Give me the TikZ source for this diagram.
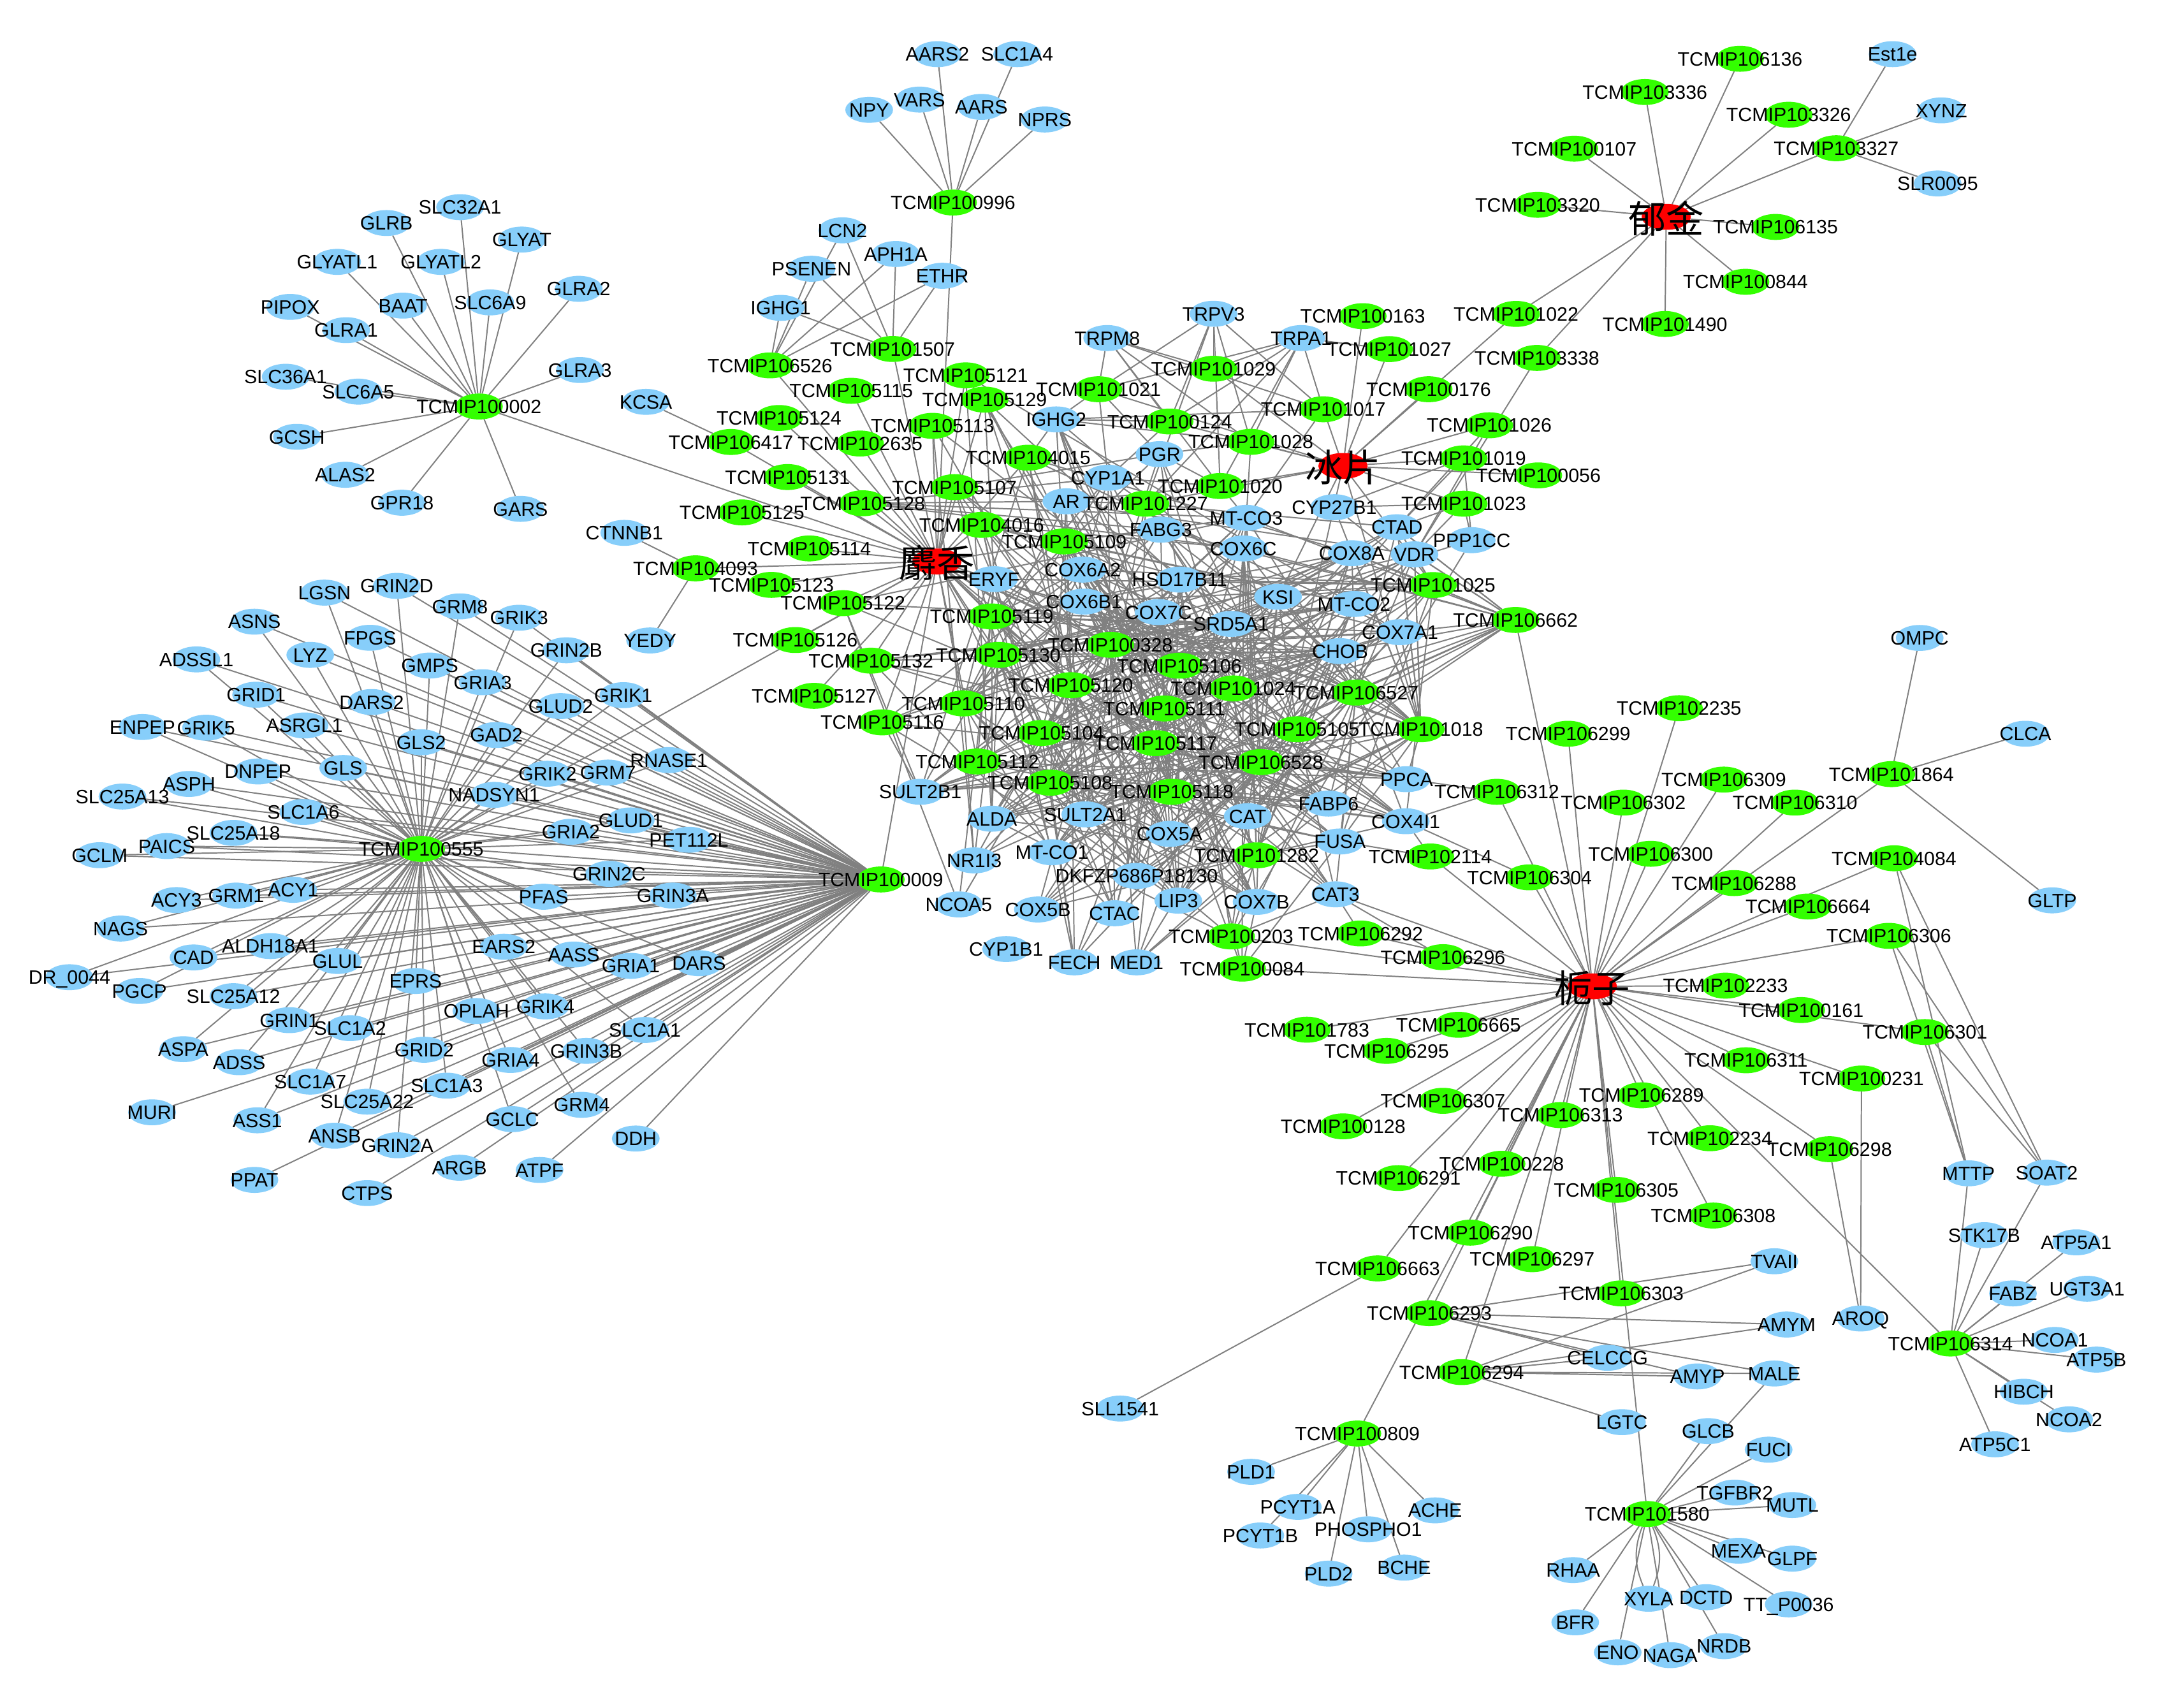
\documentclass[tikz,border=0pt]{standalone}
\usepackage{fontspec}
\setmainfont{Liberation Sans}
\newfontfamily\cjkfont{Noto Sans CJK SC}
\usetikzlibrary{shapes.geometric,backgrounds}
\definecolor{tblue}{RGB}{135,206,250}
\definecolor{cgreen}{RGB}{51,255,0}
\definecolor{hred}{RGB}{255,0,0}
\definecolor{egray}{RGB}{128,128,128}
\newcommand\lbltext[1]{\makebox[0pt][c]{\raisebox{-0.36em}[0pt][0pt]{#1}}}
\newcommand\cjktext[1]{\makebox[0pt][c]{\raisebox{-0.42em}[0pt][0pt]{#1}}}
\def\wrapt{\lbltext}
\def\wrapc{\lbltext}
\def\wraph{\cjktext}
\newcommand\mkell[5]{\node[#1node] (#2) at (#3,#4) {};}
\newcommand\mklab[5]{\node[#1lab] (#2l) at (#3,#4) {\csname wrap#1\endcsname{#5}};}
\tikzset{
  basenode/.style={ellipse, minimum width=34pt, minimum height=18.5pt, inner sep=0pt, outer sep=0pt},
  tnode/.style={basenode, fill=tblue},
  cnode/.style={basenode, fill=cgreen},
  hnode/.style={basenode, fill=hred, minimum width=35pt},
  tlab/.style={inner sep=0pt, outer sep=0pt, font=\fontsize{13.8}{16}\selectfont},
  clab/.style={tlab},
  hlab/.style={inner sep=0pt, outer sep=0pt, font=\fontsize{27}{30}\cjkfont},
  lnk/.style={draw=egray, line width=0.9pt}
}
\def\allnodes{%
% ---- top-left cluster
\ND{c}{c100002}{341.5}{289.8}{TCMIP100002}
\ND{t}{SLC32A1}{328}{147.7}{SLC32A1}
\ND{t}{GLRB}{275.5}{159}{GLRB}
\ND{t}{GLYAT}{372}{170.8}{GLYAT}
\ND{t}{GLYATL1}{240.4}{186.7}{GLYATL1}
\ND{t}{GLYATL2}{314.4}{186.7}{GLYATL2}
\ND{t}{GLRA2}{412.6}{205.9}{GLRA2}
\ND{t}{PIPOX}{206.9}{218.8}{PIPOX}
\ND{t}{BAAT}{287.3}{217.9}{BAAT}
\ND{t}{SLC6A9}{349.5}{215.6}{SLC6A9}
\ND{t}{GLRA1}{246.8}{235.4}{GLRA1}
\ND{t}{GLRA3}{413.5}{263.8}{GLRA3}
\ND{t}{SLC36A1}{203.7}{268.6}{SLC36A1}
\ND{t}{SLC6A5}{255.4}{279.2}{SLC6A5}
\ND{t}{KCSA}{460.5}{286.5}{KCSA}
\ND{t}{GCSH}{211.7}{311.4}{GCSH}
\ND{t}{ALAS2}{246.1}{338.5}{ALAS2}
\ND{t}{GPR18}{286.6}{358.4}{GPR18}
\ND{t}{GARS}{371.1}{362.8}{GARS}
\ND{t}{CTNNB1}{445.1}{379.9}{CTNNB1}
% ---- top centre
\ND{t}{AARS2}{668.4}{38.6}{AARS2}
\ND{t}{SLC1A4}{725.2}{38.6}{SLC1A4}
\ND{t}{NPY}{619.7}{78.3}{NPY}
\ND{t}{VARS}{655.6}{71}{VARS}
\ND{t}{AARS}{699.7}{76.2}{AARS}
\ND{t}{NPRS}{744.9}{85.2}{NPRS}
\ND{c}{c100996}{679.5}{144.4}{TCMIP100996}
\ND{t}{LCN2}{600.6}{164.2}{LCN2}
\ND{t}{APH1A}{638.7}{181.1}{APH1A}
\ND{t}{PSENEN}{578.6}{191.6}{PSENEN}
\ND{t}{ETHR}{671.9}{196.6}{ETHR}
\ND{t}{IGHG1}{556.6}{219.5}{IGHG1}
\ND{c}{c101507}{636.4}{248.8}{TCMIP101507}
\ND{c}{c106526}{549}{260.5}{TCMIP106526}
\ND{c}{c105121}{688.5}{267.6}{TCMIP105121}
\ND{c}{c105115}{606.9}{278.6}{TCMIP105115}
\ND{c}{c105129}{702}{284.9}{TCMIP105129}
\ND{c}{c105124}{555.4}{298}{TCMIP105124}
\ND{c}{c106417}{521.1}{315.1}{TCMIP106417}
\ND{c}{c102635}{613.2}{316.2}{TCMIP102635}
\ND{c}{c105113}{664.9}{303.6}{TCMIP105113}
\ND{t}{IGHG2}{753}{299}{IGHG2}
% ---- borneol area
\ND{t}{TRPV3}{865.2}{223.7}{TRPV3}
\ND{c}{c100163}{971.6}{225.4}{TCMIP100163}
\ND{t}{TRPM8}{789.4}{241}{TRPM8}
\ND{t}{TRPA1}{927.8}{241}{TRPA1}
\ND{c}{c101027}{990.4}{248.9}{TCMIP101027}
\ND{c}{c101029}{865.2}{262.9}{TCMIP101029}
\ND{c}{c101021}{783.2}{277.5}{TCMIP101021}
\ND{c}{c100176}{1018.6}{277.5}{TCMIP100176}
\ND{c}{c101017}{943.5}{291.8}{TCMIP101017}
\ND{c}{c100124}{833.9}{300.5}{TCMIP100124}
\ND{c}{c101026}{1061.8}{303.2}{TCMIP101026}
\ND{c}{c101028}{891.8}{315}{TCMIP101028}
\ND{t}{PGR}{826.7}{323.8}{PGR}
\ND{c}{c104015}{733.1}{326.3}{TCMIP104015}
\ND{c}{c101019}{1043.6}{326.8}{TCMIP101019}
\ND{c}{c100056}{1096.8}{338.9}{TCMIP100056}
\ND{t}{CYP1A1}{790}{340.6}{CYP1A1}
\ND{c}{c101020}{869.9}{346.5}{TCMIP101020}
\ND{c}{c105107}{680.5}{347.3}{TCMIP105107}
\ND{t}{AR}{760.3}{357.4}{AR}
\ND{c}{c101227}{816.7}{359.1}{TCMIP101227}
\ND{t}{CYP27B1}{951.3}{361.6}{CYP27B1}
\ND{c}{c101023}{1043.6}{359.1}{TCMIP101023}
\ND{c}{c105128}{615.1}{358.8}{TCMIP105128}
\ND{t}{MTCO3}{888.6}{369.2}{MT-CO3}
\ND{c}{c104016}{699.9}{374.2}{TCMIP104016}
\ND{t}{FABG3}{827.6}{377.6}{FABG3}
\ND{t}{CTAD}{996}{375.9}{CTAD}
\ND{t}{PPP1CC}{1049.3}{385.1}{PPP1CC}
\ND{c}{c105109}{758.8}{386}{TCMIP105109}
\ND{t}{COX6C}{886.5}{391}{COX6C}
\ND{t}{COX8A}{963.8}{394.4}{COX8A}
\ND{t}{VDR}{1008.5}{395.2}{VDR}
\ND{t}{ERYF}{708.7}{412.9}{ERYF}
\ND{t}{COX6A2}{771.9}{406.1}{COX6A2}
\ND{t}{HSD17B11}{841.1}{413.2}{HSD17B11}
\ND{c}{c101025}{1021.7}{417.1}{TCMIP101025}
\ND{t}{KSI}{911.2}{425.5}{KSI}
\ND{t}{COX6B1}{772.8}{428.9}{COX6B1}
\ND{t}{MTCO2}{965.4}{430.6}{MT-CO2}
\ND{c}{c105119}{707.1}{439.5}{TCMIP105119}
\ND{t}{COX7C}{826}{436.4}{COX7C}
\ND{t}{SRD5A1}{877.7}{444.8}{SRD5A1}
\ND{c}{c106662}{1080.5}{442}{TCMIP106662}
\ND{t}{COX7A1}{998.2}{450.7}{COX7A1}
% ---- centre lower
\ND{t}{CHOB}{955.4}{464.2}{CHOB}
\ND{c}{c100328}{791.6}{459.7}{TCMIP100328}
\ND{c}{c105130}{711.8}{466.9}{TCMIP105130}
\ND{c}{c105106}{840.8}{474.6}{TCMIP105106}
\ND{c}{c105120}{763.5}{488.5}{TCMIP105120}
\ND{c}{c101024}{879.3}{490.8}{TCMIP101024}
\ND{c}{c106527}{966.9}{493.8}{TCMIP106527}
\ND{c}{c105110}{686.8}{501.5}{TCMIP105110}
\ND{c}{c105111}{830.1}{505.1}{TCMIP105111}
\ND{c}{c105104}{742.5}{522.6}{TCMIP105104}
\ND{c}{c105105}{924.7}{519.9}{TCMIP105105}
\ND{c}{c101018}{1013}{519.9}{TCMIP101018}
\ND{c}{c105117}{823.9}{529.8}{TCMIP105117}
\ND{c}{c105112}{696.8}{542.9}{TCMIP105112}
\ND{c}{c106528}{899}{543.3}{TCMIP106528}
\ND{c}{c105108}{748.7}{558}{TCMIP105108}
\ND{c}{c105118}{835.5}{564.5}{TCMIP105118}
\ND{t}{SULT2B1}{656.1}{564.5}{SULT2B1}
\ND{t}{PPCA}{1002.9}{555.5}{PPCA}
\ND{c}{c106312}{1067.2}{564.5}{TCMIP106312}
\ND{t}{FABP6}{947.2}{572.9}{FABP6}
\ND{t}{ALDA}{707.1}{583.7}{ALDA}
\ND{t}{SULT2A1}{773.8}{580.6}{SULT2A1}
\ND{t}{CAT}{889.6}{581.9}{CAT}
\ND{t}{COX4I1}{1002.3}{585.5}{COX4I1}
\ND{t}{COX5A}{833.9}{594.5}{COX5A}
\ND{t}{FUSA}{955.4}{599.9}{FUSA}
\ND{c}{c101282}{895.9}{609.8}{TCMIP101282}
\ND{t}{MTCO1}{750}{607.6}{MT-CO1}
\ND{t}{NR1I3}{694.6}{613.4}{NR1I3}
\ND{c}{c102114}{1019.8}{610.6}{TCMIP102114}
\ND{c}{c100009}{628}{627}{TCMIP100009}
\ND{t}{DKFZ}{810.4}{624.5}{DKFZP686P18130}
\ND{t}{LIP3}{840.1}{642.1}{LIP3}
\ND{t}{COX7B}{895.9}{643}{COX7B}
\ND{t}{CAT3}{952.2}{637.6}{CAT3}
\ND{t}{NCOA5}{683.6}{644.8}{NCOA5}
\ND{t}{COX5B}{740}{648.4}{COX5B}
\ND{t}{CTAC}{794.8}{651.1}{CTAC}
\ND{t}{CYP1B1}{717.4}{676.6}{CYP1B1}
\ND{t}{FECH}{766}{686.1}{FECH}
\ND{t}{MED1}{810.4}{686.1}{MED1}
\ND{c}{c100203}{877.7}{667.6}{TCMIP100203}
\ND{c}{c106292}{970}{665.5}{TCMIP106292}
\ND{c}{c106296}{1028.8}{682.4}{TCMIP106296}
\ND{c}{c100084}{885.6}{690.6}{TCMIP100084}
% ---- left of musk
\ND{c}{c105131}{561.5}{340.1}{TCMIP105131}
\ND{c}{c105125}{529}{365.3}{TCMIP105125}
\ND{c}{c105114}{577}{391}{TCMIP105114}
\ND{c}{c104093}{495.9}{405.2}{TCMIP104093}
\ND{c}{c105123}{550}{417}{TCMIP105123}
\ND{c}{c105122}{601}{430}{TCMIP105122}
\ND{t}{YEDY}{463.5}{456.6}{YEDY}
\ND{c}{c105126}{567}{456.3}{TCMIP105126}
\ND{c}{c105132}{621}{471}{TCMIP105132}
\ND{c}{c105127}{580.4}{496.1}{TCMIP105127}
\ND{c}{c105116}{629}{515}{TCMIP105116}
% ---- left cluster
\ND{t}{GRIN2D}{282.9}{417.7}{GRIN2D}
\ND{t}{LGSN}{231.3}{422.5}{LGSN}
\ND{t}{GRM8}{327.9}{432.3}{GRM8}
\ND{t}{GRIK3}{370.1}{440.4}{GRIK3}
\ND{t}{ASNS}{181.4}{443.2}{ASNS}
\ND{t}{FPGS}{263.8}{454.7}{FPGS}
\ND{t}{GRIN2B}{403.8}{463.6}{GRIN2B}
\ND{t}{LYZ}{221.2}{466.9}{LYZ}
\ND{t}{ADSSL1}{140}{470.1}{ADSSL1}
\ND{t}{GMPS}{306.4}{474.5}{GMPS}
\ND{t}{GRIA3}{344.2}{486.4}{GRIA3}
\ND{t}{GRID1}{182.6}{495.3}{GRID1}
\ND{t}{DARS2}{265}{500.5}{DARS2}
\ND{t}{GLUD2}{399.8}{503.4}{GLUD2}
\ND{t}{GRIK1}{444.4}{495.6}{GRIK1}
\ND{t}{ENPEP}{101.5}{518.3}{ENPEP}
\ND{t}{GRIK5}{146.9}{518.8}{GRIK5}
\ND{t}{ASRGL1}{217.1}{517.2}{ASRGL1}
\ND{t}{GLS2}{300.3}{529.2}{GLS2}
\ND{t}{GAD2}{353.9}{524}{GAD2}
\ND{t}{RNASE1}{476.9}{541.9}{RNASE1}
\ND{t}{GLS}{244.7}{547.5}{GLS}
\ND{t}{DNPEP}{183.9}{550}{DNPEP}
\ND{t}{GRIK2}{390.4}{551.6}{GRIK2}
\ND{t}{GRM7}{433.5}{550.8}{GRM7}
\ND{t}{ASPH}{134.7}{558.9}{ASPH}
\ND{t}{SLC25A13}{87.3}{567.9}{SLC25A13}
\ND{t}{NADSYN1}{352.3}{566.7}{NADSYN1}
\ND{t}{SLC1A6}{216.3}{578.9}{SLC1A6}
\ND{t}{GLUD1}{449.7}{584.9}{GLUD1}
\ND{t}{SLC25A18}{166.4}{593.8}{SLC25A18}
\ND{t}{GRIA2}{407}{593}{GRIA2}
\ND{t}{PET112L}{491.1}{598.7}{PET112L}
\ND{t}{PAICS}{118.9}{603.2}{PAICS}
\ND{t}{GCLM}{71}{609.7}{GCLM}
\ND{c}{c100555}{300.3}{605.2}{TCMIP100555}
\ND{t}{GRIN2C}{434.3}{623}{GRIN2C}
\ND{t}{ACY3}{125.8}{641.7}{ACY3}
\ND{t}{GRM1}{168.4}{638.5}{GRM1}
\ND{t}{ACY1}{209}{634.4}{ACY1}
\ND{t}{PFAS}{387.6}{639.3}{PFAS}
\ND{t}{GRIN3A}{479.7}{638.5}{GRIN3A}
\ND{t}{NAGS}{86}{662}{NAGS}
\ND{t}{ALDH18A1}{192.8}{674.5}{ALDH18A1}
\ND{t}{CAD}{138}{682.6}{CAD}
\ND{t}{GLUL}{240.7}{685.1}{GLUL}
\ND{t}{EARS2}{359.2}{675}{EARS2}
\ND{t}{AASS}{409.1}{680.5}{AASS}
\ND{t}{GRIA1}{449.7}{688.6}{GRIA1}
\ND{t}{DARS}{498.4}{686.7}{DARS}
\ND{t}{DR0044}{49.5}{696.7}{DR\_0044}
\ND{t}{EPRS}{296.3}{699.4}{EPRS}
\ND{t}{PGCP}{99.4}{706.5}{PGCP}
\ND{t}{SLC25A12}{166.4}{710.2}{SLC25A12}
\ND{t}{OPLAH}{339.7}{720.8}{OPLAH}
\ND{t}{GRIK4}{388.8}{717.5}{GRIK4}
\ND{t}{GRIN1}{206.2}{727.3}{GRIN1}
\ND{t}{SLC1A2}{249.6}{733}{SLC1A2}
\ND{t}{SLC1A1}{459.8}{734.3}{SLC1A1}
\ND{t}{ASPA}{130.7}{748}{ASPA}
\ND{t}{GRID2}{302.4}{748.4}{GRID2}
\ND{t}{GRIN3B}{418}{749.2}{GRIN3B}
\ND{t}{ADSS}{170.5}{757.3}{ADSS}
\ND{t}{GRIA4}{364}{755.7}{GRIA4}
\ND{t}{SLC1A7}{221.2}{771.1}{SLC1A7}
\ND{t}{SLC1A3}{318.6}{774}{SLC1A3}
\ND{t}{SLC25A22}{261.8}{785.4}{SLC25A22}
\ND{t}{GRM4}{414.8}{787.7}{GRM4}
\ND{t}{MURI}{108.4}{793}{MURI}
\ND{t}{ASS1}{183.5}{798.7}{ASS1}
\ND{t}{GCLC}{365.3}{797.9}{GCLC}
\ND{t}{DDH}{453.3}{811.7}{DDH}
\ND{t}{ANSB}{238.6}{809.7}{ANSB}
\ND{t}{GRIN2A}{283.3}{816.5}{GRIN2A}
\ND{t}{ARGB}{327.5}{832.5}{ARGB}
\ND{t}{ATPF}{384.7}{834.1}{ATPF}
\ND{t}{PPAT}{181.4}{841.2}{PPAT}
\ND{t}{CTPS}{261.8}{850.6}{CTPS}
% ---- top right
\ND{c}{c106136}{1240.6}{41.9}{TCMIP106136}
\ND{t}{Est1e}{1349.4}{38.6}{Est1e}
\ND{c}{c103336}{1172.8}{65.6}{TCMIP103336}
\ND{c}{c103326}{1275.3}{81.8}{TCMIP103326}
\ND{t}{XYNZ}{1384.1}{78.7}{XYNZ}
\ND{c}{c100107}{1122.4}{106}{TCMIP100107}
\ND{c}{c103327}{1309.2}{105.7}{TCMIP103327}
\ND{t}{SLR0095}{1381.5}{130.8}{SLR0095}
\ND{c}{c103320}{1096.3}{146}{TCMIP103320}
\ND{c}{c106135}{1265.9}{161.8}{TCMIP106135}
\ND{c}{c100844}{1244.5}{200.9}{TCMIP100844}
\ND{c}{c101022}{1080.9}{223.8}{TCMIP101022}
\ND{c}{c101490}{1187.1}{231}{TCMIP101490}
\ND{c}{c103338}{1095.8}{255.2}{TCMIP103338}
% ---- right cluster
\ND{t}{OMPC}{1368.7}{454.8}{OMPC}
\ND{c}{c102235}{1197.1}{504.9}{TCMIP102235}
\ND{c}{c106299}{1118}{523.1}{TCMIP106299}
\ND{t}{CLCA}{1444.1}{523.1}{CLCA}
\ND{c}{c101864}{1348.5}{551.9}{TCMIP101864}
\ND{c}{c106309}{1229}{555.8}{TCMIP106309}
\ND{c}{c106302}{1157.4}{572.2}{TCMIP106302}
\ND{c}{c106310}{1279.8}{572.2}{TCMIP106310}
\ND{c}{c106300}{1176.9}{608.7}{TCMIP106300}
\ND{c}{c104084}{1350.4}{611.9}{TCMIP104084}
\ND{c}{c106304}{1090.5}{625.5}{TCMIP106304}
\ND{c}{c106288}{1236.4}{629.6}{TCMIP106288}
\ND{t}{GLTP}{1463.2}{641.9}{GLTP}
\ND{c}{c106664}{1289}{646.3}{TCMIP106664}
\ND{c}{c106306}{1346.7}{667.2}{TCMIP106306}
\ND{c}{c102233}{1230.2}{702.7}{TCMIP102233}
\ND{c}{c100161}{1284.2}{720.1}{TCMIP100161}
\ND{c}{c106665}{1039.8}{730.6}{TCMIP106665}
\ND{c}{c106301}{1372.4}{735.8}{TCMIP106301}
\ND{c}{c101783}{931.8}{734.1}{TCMIP101783}
\ND{c}{c106295}{988.6}{749.2}{TCMIP106295}
\ND{c}{c106311}{1244.9}{755.9}{TCMIP106311}
\ND{c}{c100231}{1327.2}{768.9}{TCMIP100231}
\ND{c}{c106307}{1028.8}{784.8}{TCMIP106307}
\ND{c}{c106289}{1170.3}{780.9}{TCMIP106289}
\ND{c}{c106313}{1112.5}{795}{TCMIP106313}
\ND{c}{c100128}{957.6}{803}{TCMIP100128}
\ND{c}{c102234}{1219.1}{811.5}{TCMIP102234}
\ND{c}{c106298}{1304.4}{819.3}{TCMIP106298}
\ND{c}{c100228}{1070.6}{829.7}{TCMIP100228}
\ND{t}{MTTP}{1403.5}{836.5}{MTTP}
\ND{t}{SOAT2}{1459.3}{836}{SOAT2}
\ND{c}{c106291}{997}{839.9}{TCMIP106291}
\ND{c}{c106305}{1152.3}{848.3}{TCMIP106305}
\ND{c}{c106308}{1221.5}{866.6}{TCMIP106308}
\ND{c}{c106290}{1048.3}{878.8}{TCMIP106290}
\ND{t}{STK17B}{1414.7}{880.6}{STK17B}
\ND{t}{ATP5A1}{1480.3}{885.7}{ATP5A1}
\ND{c}{c106297}{1092.4}{897.7}{TCMIP106297}
\ND{t}{TVAII}{1265.1}{899.2}{TVAII}
\ND{c}{c106663}{982.2}{904.3}{TCMIP106663}
\ND{t}{FABZ}{1435.2}{922.1}{FABZ}
\ND{t}{UGT3A1}{1488}{918.8}{UGT3A1}
\ND{c}{c106303}{1155.9}{922.1}{TCMIP106303}
\ND{c}{c106293}{1019.1}{936.2}{TCMIP106293}
\ND{t}{AMYM}{1273.8}{944.3}{AMYM}
\ND{t}{AROQ}{1326.6}{940}{AROQ}
\ND{c}{c106314}{1390.6}{957.8}{TCMIP106314}
\ND{t}{NCOA1}{1465}{955.3}{NCOA1}
\ND{t}{ATP5B}{1494.7}{969.3}{ATP5B}
\ND{t}{CELCCG}{1146.2}{968}{CELCCG}
\ND{c}{c106294}{1042.1}{978.2}{TCMIP106294}
\ND{t}{AMYP}{1210.2}{981.3}{AMYP}
\ND{t}{MALE}{1265.1}{979.2}{MALE}
\ND{t}{HIBCH}{1442.9}{992.2}{HIBCH}
\ND{t}{SLL1541}{798.7}{1004.2}{SLL1541}
\ND{t}{NCOA2}{1475.2}{1011.9}{NCOA2}
\ND{t}{LGTC}{1156.4}{1013.9}{LGTC}
\ND{t}{GLCB}{1217.9}{1020.3}{GLCB}
\ND{c}{c100809}{967.8}{1022}{TCMIP100809}
\ND{t}{ATP5C1}{1422.4}{1029.7}{ATP5C1}
\ND{t}{FUCI}{1261}{1033.5}{FUCI}
\ND{t}{PLD1}{892}{1049.3}{PLD1}
\ND{t}{TGFBR2}{1236.9}{1064.1}{TGFBR2}
\ND{t}{MUTL}{1277.9}{1073}{MUTL}
\ND{t}{PCYT1A}{925.3}{1074.3}{PCYT1A}
\ND{t}{ACHE}{1023.2}{1076.8}{ACHE}
\ND{c}{c101580}{1174.4}{1079.4}{TCMIP101580}
\ND{t}{PHOSPHO1}{975.5}{1090.3}{PHOSPHO1}
\ND{t}{PCYT1B}{898.6}{1094.7}{PCYT1B}
\ND{t}{MEXA}{1239.5}{1105.6}{MEXA}
\ND{t}{GLPF}{1277.9}{1111.2}{GLPF}
\ND{t}{RHAA}{1121.6}{1119.4}{RHAA}
\ND{t}{PLD2}{947.3}{1121.9}{PLD2}
\ND{t}{BCHE}{1001.1}{1117.6}{BCHE}
\ND{t}{XYLA}{1175.4}{1139.8}{XYLA}
\ND{t}{DCTD}{1216.4}{1138.7}{DCTD}
\ND{t}{TTP0036}{1275.3}{1143.8}{TT\_P0036}
\ND{t}{BFR}{1123.1}{1156.6}{BFR}
\ND{t}{ENO}{1153.4}{1178}{ENO}
\ND{t}{NAGA}{1190.8}{1180}{NAGA}
\ND{t}{NRDB}{1229.2}{1173.6}{NRDB}
% ---- herbs
\ND{h}{YJ}{1188}{154.6}{郁金}
\ND{h}{BP}{957.5}{332.2}{冰片}
\ND{h}{SX}{668}{400.3}{麝香}
\ND{h}{ZZ}{1135.3}{703.2}{栀子}
}
\begin{document}
\begin{tikzpicture}[x=1pt,y=-1pt]
\useasboundingbox (0,0) rectangle (1553.6,1217.7);
\let\ND\mkell
\allnodes
\let\ND\mklab
\allnodes
\begin{pgfonlayer}{background}
\fill[white] (0,0) rectangle (1553.6,1217.7);
% herb hubs
\foreach \b in {c105121,c105115,c105129,c105124,c106417,c102635,c105113,c105131,c105128,c105125,c105114,c105123,c105122,c105126,c105132,c105127,c105116,c104093,c105107,c104015,c104016,c105109,c105119,c105130,c100328,c105106,c105120,c105110,c105111,c105104,c105105,c105117,c105112,c105108,c105118,c101507,c106526,c100996,c100002,c100555,c100009,c106527,c106528}
  \draw[lnk] (SX) -- (\b);
\foreach \b in {c100163,c101027,c101029,c101021,c100176,c101017,c100124,c101028,c101026,c101019,c100056,c101020,c101227,c101023,c101025,c101024,c101018,c101282,c101022}
  \draw[lnk] (BP) -- (\b);
\foreach \b in {c106136,c103336,c103326,c100107,c103327,c103320,c106135,c100844,c101022,c101490,c103338}
  \draw[lnk] (YJ) -- (\b);
\foreach \b in {c106662,c106299,c102235,c106309,c106312,c106302,c106310,c106300,c102114,c106304,c106288,c106664,c106306,c106296,c106292,c102233,c100161,c106301,c106665,c106295,c101783,c106311,c100231,c106307,c106289,c106313,c100128,c102234,c106298,c100228,c106291,c106305,c106308,c106290,c106297,c106663,c106303,c106293,c106294,c100809,c101580,c106314,c101864,c104084,c100203,c100084,CAT3}
  \draw[lnk] (ZZ) -- (\b);
% compound - target pairs
\foreach \a/\b in {c100002/SLC32A1,c100002/GLRB,c100002/GLYAT,c100002/GLYATL1,c100002/GLYATL2,c100002/GLRA2,c100002/PIPOX,c100002/BAAT,c100002/SLC6A9,c100002/GLRA1,c100002/GLRA3,c100002/SLC36A1,c100002/SLC6A5,c100002/GCSH,c100002/ALAS2,c100002/GPR18,c100002/GARS,
  c106417/KCSA,c104093/CTNNB1,c104093/YEDY,
  c100996/AARS2,c100996/SLC1A4,c100996/NPY,c100996/VARS,c100996/AARS,c100996/NPRS,
  c101507/LCN2,c101507/APH1A,c101507/PSENEN,c101507/ETHR,c101507/IGHG1,
  c106526/IGHG1,c106526/PSENEN,c106526/LCN2,c106526/APH1A,c106526/ETHR,
  c103327/Est1e,c103327/XYNZ,c103327/SLR0095,c103338/VDR,
  TRPV3/c101021,TRPV3/c101029,TRPV3/c100124,TRPV3/c101017,TRPV3/c101028,TRPV3/c101020,TRPV3/c101227,
  TRPM8/c101029,TRPM8/c101021,TRPM8/c100124,TRPM8/c101028,TRPM8/c101020,TRPM8/c101017,
  TRPA1/c101029,TRPA1/c101021,TRPA1/c100124,TRPA1/c101017,TRPA1/c101028,TRPA1/c101020,TRPA1/c101027,TRPA1/c101227,
  IGHG2/c100124,IGHG2/c101017,IGHG2/c101028,IGHG2/c101021,PGR/c101020,PGR/c101021,PGR/c101028,
  CYP27B1/c101019,CYP27B1/c101023,CYP27B1/c101025,CYP27B1/c101018,
  CTAD/c101023,CTAD/c101019,CTAD/c101026,CTAD/c101025,CTAD/c101018,CTAD/c106662,
  VDR/c101023,VDR/c101025,VDR/c101026,VDR/c101018,VDR/c106662,PPP1CC/c101023,PPP1CC/c101019,
  COX8A/c101025,COX8A/c106662,COX8A/c101018,MTCO3/c101020,MTCO3/c101028,MTCO3/c101017,
  CYP1A1/c101020,CYP1A1/c101021,CYP1A1/c100124,AR/c101227,AR/c101020,FABG3/c101227,
  c106312/PPCA,c106312/COX4I1,c102114/FUSA,c102114/COX4I1,c106304/COX4I1,c106292/CAT3,c106296/CAT3,
  c101864/OMPC,c101864/CLCA,c101864/GLTP,
  c104084/MTTP,c104084/SOAT2,c106306/MTTP,c106306/SOAT2,c106301/MTTP,c106301/SOAT2,
  c100231/AROQ,c106298/AROQ,
  c106314/STK17B,c106314/ATP5A1,c106314/FABZ,c106314/UGT3A1,c106314/NCOA1,c106314/ATP5B,c106314/HIBCH,c106314/NCOA2,c106314/ATP5C1,c106314/MTTP,c106314/SOAT2,
  c106293/TVAII,c106293/AMYM,c106293/CELCCG,c106293/MALE,c106293/AMYP,
  c106294/TVAII,c106294/CELCCG,c106294/AMYP,c106294/MALE,c106294/LGTC,c106294/AMYM,
  c101580/GLCB,c101580/FUCI,c101580/TGFBR2,c101580/MUTL,c101580/MEXA,c101580/GLPF,c101580/TTP0036,c101580/RHAA,c101580/DCTD,c101580/BFR,c101580/ENO,c101580/NAGA,c101580/NRDB,c101580/MALE,
  c100809/PLD1,c100809/PCYT1A,c100809/PCYT1B,c100809/PHOSPHO1,c100809/ACHE,c100809/PLD2,c100809/BCHE,
  c106663/SLL1541}
  \draw[lnk] (\a) -- (\b);
\draw[lnk] (c101580) to[bend left=22] (XYLA);
\draw[lnk] (c101580) to[bend right=22] (XYLA);
% left cluster
\foreach \b in {GRIN2D,LGSN,GRM8,GRIK3,ASNS,FPGS,GRIN2B,LYZ,ADSSL1,GMPS,GRIA3,GRID1,DARS2,GLUD2,GRIK1,ENPEP,GRIK5,ASRGL1,GLS2,GAD2,RNASE1,GLS,DNPEP,GRIK2,GRM7,ASPH,SLC25A13,NADSYN1,SLC1A6,GLUD1,SLC25A18,GRIA2,PET112L,PAICS,GCLM,GRIN2C,ACY3,GRM1,ACY1,PFAS,GRIN3A,NAGS,ALDH18A1,CAD,GLUL,EARS2,AASS,GRIA1,DARS,DR0044,EPRS,PGCP,SLC25A12,OPLAH,GRIK4,GRIN1,SLC1A2,SLC1A1,ASPA,GRID2,GRIN3B,ADSS,GRIA4,SLC1A7,SLC1A3,SLC25A22,GRM4,ASS1,GCLC,ANSB,GRIN2A}
  {\draw[lnk] (c100555) -- (\b); \draw[lnk] (c100009) -- (\b);}
\foreach \b in {MURI,DDH,ATPF,CTPS,PPAT,ARGB}
  \draw[lnk] (c100009) -- (\b);
% dense centre
\foreach \cmp/\dens [count=\i] in {c105119/40,c105130/40,c100328/55,c105106/55,c105120/55,c101024/50,c106527/55,c105110/35,c105111/50,c105104/45,c105105/50,c101018/55,c105117/50,c105112/35,c106528/55,c105108/45,c105118/55,c101282/40,c106662/45,c105109/30,c105107/20,c104015/20,c104016/25,c101227/20,c101025/25,c100203/15,c100084/12,c105132/15,c105116/20,c105113/10,c105128/12,c105122/12,c105121/8,c105129/8}{
  \foreach \tg/\wt [count=\j] in {ERYF/100,COX6A2/110,HSD17B11/110,KSI/110,COX6B1/110,MTCO2/110,COX7C/120,SRD5A1/110,COX7A1/110,CHOB/110,COX8A/110,VDR/90,CTAD/90,COX6C/110,MTCO3/100,FABG3/90,AR/80,CYP1A1/60,PGR/40,IGHG2/90,PPCA/100,FABP6/90,COX4I1/110,FUSA/90,CAT/100,COX5A/110,SULT2A1/100,ALDA/100,SULT2B1/110,MTCO1/100,NR1I3/80,DKFZ/90,LIP3/80,COX7B/100,CAT3/70,NCOA5/40,COX5B/80,CTAC/90,CYP1B1/40,FECH/60,MED1/30,CYP27B1/30,PPP1CC/20}{
    \pgfmathtruncatemacro\rnd{mod(\i*37+\j*71+mod(\i*\j,53)*17,100)}
    \pgfmathtruncatemacro\thr{\dens*\wt/100}
    \ifnum\rnd<\thr\relax \draw[lnk] (\cmp) -- (\tg);\fi
  }
}
\end{pgfonlayer}
\end{tikzpicture}
\end{document}
